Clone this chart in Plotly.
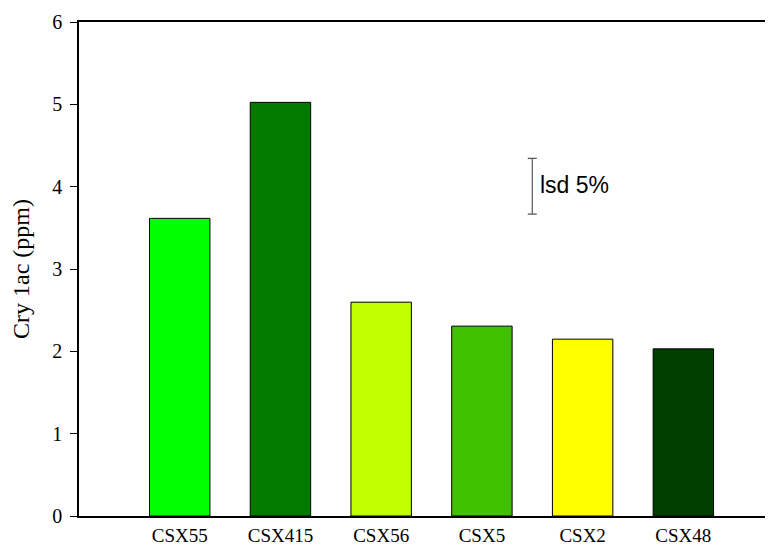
import plotly.graph_objects as go

categories = ["CSX55", "CSX415", "CSX56", "CSX5", "CSX2", "CSX48"]
values = [3.615, 5.024, 2.597, 2.306, 2.148, 2.03]
colors = ["#00FF00", "#007A00", "#BFFF00", "#40C000", "#FFFF00", "#003F00"]
positions = [1, 2, 3, 4, 5, 6]
lsd_x = 4.5
lsd_center = 4.005
lsd_half = 0.339
y_ticks = [0, 1, 2, 3, 4, 5, 6]

fig = go.Figure()
fig.add_trace(go.Bar(
    x=positions, y=values, width=0.6,
    marker=dict(color=colors, line=dict(color="black", width=1)),
    showlegend=False, hoverinfo="x+y",
))
fig.add_trace(go.Scatter(
    x=[lsd_x], y=[lsd_center], mode="markers",
    marker=dict(size=1, color="rgba(0,0,0,0)"),
    error_y=dict(type="data", array=[lsd_half], color="#555555", thickness=1.2, width=4.5),
    showlegend=False, hoverinfo="skip",
))
fig.add_annotation(
    x=lsd_x, y=lsd_center, text="lsd 5%", showarrow=False,
    xanchor="left", yanchor="middle", xshift=6, yshift=1,
    font=dict(family="Liberation Sans", size=23, color="black"),
)

# page body has an 8px default margin, so the figure is sized/offset to compensate
fig.update_layout(
    width=765, height=537,
    margin=dict(l=71, r=0, t=14, b=29),
    paper_bgcolor="white", plot_bgcolor="white",
    font=dict(family="Liberation Serif", size=19, color="black"),
    xaxis=dict(
        range=[0, 6.89], tickmode="array", tickvals=positions, ticktext=categories,
        showline=True, linecolor="black", linewidth=1.5, mirror=True,
        showgrid=False, zeroline=False, ticks="", ticklabelstandoff=1,
        tickfont=dict(family="Liberation Serif", size=19),
        automargin=False,
    ),
    yaxis=dict(
        range=[0, 6], tickmode="array", tickvals=y_ticks,
        showline=True, linecolor="black", linewidth=1.5, mirror=False,
        showgrid=False, zeroline=False, ticks="outside", ticklen=7, tickcolor="black",
        tickwidth=1, ticklabelstandoff=4,
        tickfont=dict(family="Liberation Serif", size=20),
        title=dict(text="Cry 1ac (ppm)", font=dict(family="Liberation Serif", size=24), standoff=19),
        automargin=False,
    ),
)

fig.write_html("out.html")
